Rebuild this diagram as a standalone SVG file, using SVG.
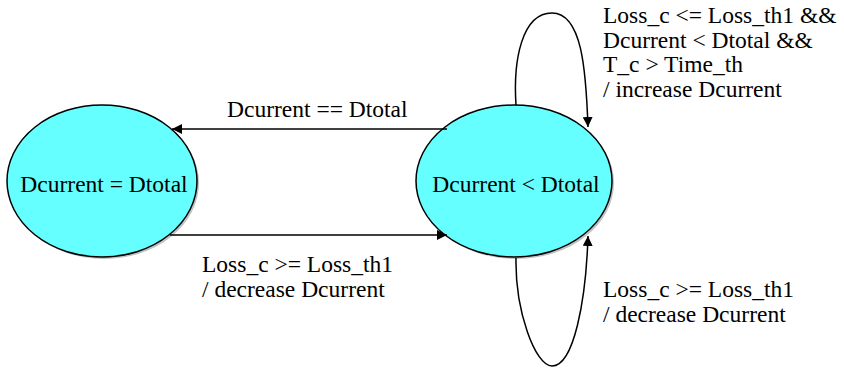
<svg xmlns="http://www.w3.org/2000/svg" width="844" height="368" viewBox="0 0 844 368">
<defs>
<marker id="ah" viewBox="0 0 10 10" refX="10" refY="5" markerWidth="10" markerHeight="10" markerUnits="userSpaceOnUse" orient="auto">
<path d="M0,0 L10,5 L0,10 z" fill="#000"/>
</marker>
</defs>
<rect width="844" height="368" fill="#fff"/>
<g id="s_equal">
<ellipse cx="104" cy="183" rx="95" ry="76" fill="#999" opacity="0.6"/>
<ellipse cx="102" cy="181" rx="95" ry="76" fill="#66ffff" stroke="#000" stroke-width="1.5"/>
<text x="104" y="192" text-anchor="middle" font-family="'Liberation Serif'" font-size="23.5">Dcurrent = Dtotal</text>
</g>
<g id="s_less">
<ellipse cx="516" cy="183" rx="98" ry="76" fill="#999" opacity="0.6"/>
<ellipse cx="514" cy="181" rx="98" ry="76" fill="#66ffff" stroke="#000" stroke-width="1.5"/>
<text x="516" y="192" text-anchor="middle" font-family="'Liberation Serif'" font-size="23.5">Dcurrent &lt; Dtotal</text>
</g>
<g id="connectors" fill="none" stroke="#000" stroke-width="1.5" marker-end="url(#ah)">
<path d="M447,129 L172,129"/>
<path d="M170,235 L447,235"/>
<path d="M516,105 C513,60 522,13 552,13 C582,13 586,70 588,127"/>
<path d="M516,258 C515,310 535,366 552,366 C574,366 586,300 588,236"/>
</g>
<g id="labels" fill="#000">
<text x="227" y="117" font-family="'Liberation Serif'" font-size="23.5">Dcurrent == Dtotal</text>
<text x="202" y="272" font-family="'Liberation Serif'" font-size="23.5">Loss_c &gt;= Loss_th1</text>
<text x="202" y="297" font-family="'Liberation Serif'" font-size="23.5">/ decrease Dcurrent</text>
<text x="603" y="23" font-family="'Liberation Serif'" font-size="23.5">Loss_c &lt;= Loss_th1 &amp;&amp;</text>
<text x="603" y="48" font-family="'Liberation Serif'" font-size="23.5">Dcurrent &lt; Dtotal &amp;&amp;</text>
<text x="603" y="72" font-family="'Liberation Serif'" font-size="23.5">T_c &gt; Time_th</text>
<text x="603" y="97" font-family="'Liberation Serif'" font-size="23.5">/ increase Dcurrent</text>
<text x="603" y="297" font-family="'Liberation Serif'" font-size="23.5">Loss_c &gt;= Loss_th1</text>
<text x="603" y="322" font-family="'Liberation Serif'" font-size="23.5">/ decrease Dcurrent</text>
</g>
</svg>
